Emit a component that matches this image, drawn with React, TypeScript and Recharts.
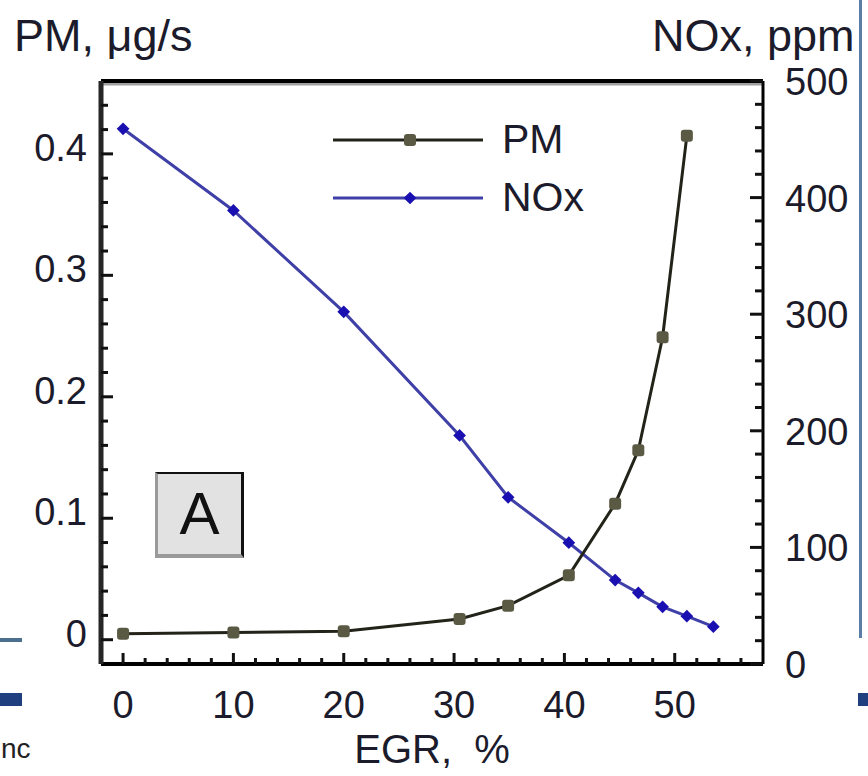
import React from 'react';
import { LineChart, Line, XAxis, YAxis, Legend, ReferenceLine } from 'recharts';

// values
const egr = [0, 10, 20, 30.5, 34.9, 40.4, 44.6, 46.7, 48.9, 51.1, 53.5];
const pm = [0.005, 0.006, 0.007, 0.017, 0.028, 0.053, 0.112, 0.156, 0.249, 0.415, null];
const nox = [459, 389, 302, 196, 143, 104, 72, 61, 49, 41, 32];

const xTicks = [0, 2, 4, 6, 8, 10, 12, 14, 16, 18, 20, 22, 24, 26, 28, 30, 32, 34, 36, 38, 40, 42, 44, 46, 48, 50, 52, 54, 56];
const xLabels = [0, 10, 20, 30, 40, 50];
const pmTicks = [0, 0.02, 0.04, 0.06, 0.08, 0.1, 0.12, 0.14, 0.16, 0.18, 0.2, 0.22, 0.24, 0.26, 0.28, 0.3, 0.32, 0.34, 0.36, 0.38, 0.4, 0.42, 0.44];
const pmLabels = [0, 0.1, 0.2, 0.3, 0.4];
const noxTicks = [0, 20, 40, 60, 80, 100, 120, 140, 160, 180, 200, 220, 240, 260, 280, 300, 320, 340, 360, 380, 400, 420, 440, 460, 480, 500];
const noxLabels = [0, 100, 200, 300, 400, 500];
const legendOrder = ['PM', 'NOx'];

const data = egr.map((e, i) => ({ egr: e, pm: pm[i], nox: nox[i] }));

const FONT = '"Liberation Sans", Arial, sans-serif';
const TEXT = '#1b1b2b';
const PM_LINE = '#23231a';
const PM_DOT = '#5a5a44';
const NOX_LINE = '#3f3fa8';
const NOX_DOT = '#1a0fb0';

const has = (list: number[], v: number) => list.some((m) => Math.abs(m - v) < 1e-9);

const LeftTick = (props: any) => {
  const { x, y, payload } = props;
  const major = has(pmLabels, payload.value);
  return (
    <g>
      <line x1={x} y1={y} x2={x + (major ? 12 : 7)} y2={y} stroke="#111" strokeWidth={3} />
      {major && (
        <text x={x - 14} y={y + 7} textAnchor="end" fontSize={38} fontFamily={FONT} fill={TEXT}>
          {String(payload.value)}
        </text>
      )}
    </g>
  );
};

const RightTick = (props: any) => {
  const { x, y, payload } = props;
  const major = has(noxLabels, payload.value);
  return (
    <g>
      <line x1={x} y1={y} x2={x - (major ? 13 : 8)} y2={y} stroke="#111" strokeWidth={3} />
      {major && (
        <text x={x + 22} y={y + 14} textAnchor="start" fontSize={38} fontFamily={FONT} fill={TEXT}>
          {String(payload.value)}
        </text>
      )}
    </g>
  );
};

const BottomTick = (props: any) => {
  const { x, y, payload } = props;
  const major = has(xLabels, payload.value);
  return (
    <g>
      <line x1={x} y1={y} x2={x} y2={y - (major ? 11 : 6)} stroke="#111" strokeWidth={3} />
      {major && (
        <text x={x} y={y + 54} textAnchor="middle" fontSize={38} fontFamily={FONT} fill={TEXT}>
          {String(payload.value)}
        </text>
      )}
    </g>
  );
};

const pmDot = (p: any) => {
  if (p.cy == null || p.value == null) return <g key={p.index} />;
  return <rect key={p.index} x={p.cx - 6} y={p.cy - 6} width={12} height={12} rx={3} fill={PM_DOT} />;
};

const noxDot = (p: any) => {
  if (p.cy == null) return <g key={p.index} />;
  return (
    <rect
      key={p.index}
      x={p.cx - 4.5}
      y={p.cy - 4.5}
      width={9}
      height={9}
      fill={NOX_DOT}
      transform={`rotate(45 ${p.cx} ${p.cy})`}
    />
  );
};

const renderLegend = (props: any) => {
  const items = [...(props.payload || [])].sort(
    (a: any, b: any) => legendOrder.indexOf(a.value) - legendOrder.indexOf(b.value)
  );
  return (
    <svg width={300} height={120}>
      {items.map((it: any, i: number) => {
        const y = i === 0 ? 30 : 88;
        const isPm = it.value === 'PM';
        return (
          <g key={it.value}>
            <line x1={13} y1={y} x2={163} y2={y} stroke={isPm ? PM_LINE : NOX_LINE} strokeWidth={3} />
            {isPm ? (
              <rect x={84} y={y - 6} width={12} height={12} rx={3} fill={PM_DOT} />
            ) : (
              <rect x={85.5} y={y - 4.5} width={9} height={9} fill={NOX_DOT} transform={`rotate(45 90 ${y})`} />
            )}
            <text x={182} y={y + 13} fontSize={41} fontFamily={FONT} fill={TEXT}>
              {it.value}
            </text>
          </g>
        );
      })}
    </svg>
  );
};

const App = () => {
  return (
    <div
      style={{
        position: 'absolute',
        left: 0,
        top: 0,
        width: 868,
        height: 776,
        background: '#fff',
        overflow: 'hidden',
        fontFamily: FONT,
      }}
    >
      <LineChart width={868} height={776} data={data} margin={{ top: 81, right: 0, bottom: 0, left: 0 }}>
        <XAxis
          dataKey="egr"
          type="number"
          domain={[-2, 58]}
          ticks={xTicks}
          interval={0}
          allowDataOverflow
          height={112}
          tickSize={0}
          tickMargin={0}
          tickLine={false}
          tick={<BottomTick />}
          axisLine={{ stroke: '#000', strokeWidth: 4 }}
          label={{ value: 'EGR,\u00a0 %', position: 'insideBottom', offset: 13, fontSize: 40, fill: TEXT, fontFamily: FONT }}
        />
        <YAxis
          yAxisId="left"
          type="number"
          domain={[-0.02, 0.46]}
          ticks={pmTicks}
          interval={0}
          allowDataOverflow
          width={101}
          tickSize={0}
          tickMargin={0}
          tickLine={false}
          tick={<LeftTick />}
          axisLine={{ stroke: '#262626', strokeWidth: 5 }}
        />
        <YAxis
          yAxisId="right"
          orientation="right"
          type="number"
          domain={[0, 500]}
          ticks={noxTicks}
          interval={0}
          allowDataOverflow
          width={105}
          tickSize={0}
          tickMargin={0}
          tickLine={false}
          tick={<RightTick />}
          axisLine={{ stroke: '#000', strokeWidth: 3 }}
        />
        <ReferenceLine yAxisId="left" y={0.4575} stroke="#a0a0a0" strokeWidth={3} />
        <ReferenceLine yAxisId="left" y={0.46} stroke="#000" strokeWidth={4} />
        <Legend
          layout="horizontal"
          verticalAlign="middle"
          align="center"
          content={renderLegend}
          wrapperStyle={{ position: 'absolute', left: 320, top: 110, width: 300, height: 120 }}
        />
        <Line
          yAxisId="right"
          type="linear"
          dataKey="nox"
          name="NOx"
          stroke={NOX_LINE}
          strokeWidth={3}
          dot={noxDot}
          activeDot={false}
          isAnimationActive={false}
          legendType="line"
        />
        <Line
          yAxisId="left"
          type="linear"
          dataKey="pm"
          name="PM"
          stroke={PM_LINE}
          strokeWidth={3}
          dot={pmDot}
          activeDot={false}
          isAnimationActive={false}
          legendType="line"
        />
      </LineChart>

      {/* axis titles above the frame */}
      <div style={{ position: 'absolute', left: 14, top: 13, fontSize: 45, lineHeight: '45px', color: TEXT, whiteSpace: 'nowrap' }}>
        PM, μg/s
      </div>
      <div style={{ position: 'absolute', left: 652, top: 13, fontSize: 45, lineHeight: '45px', color: TEXT, whiteSpace: 'nowrap' }}>
        NOx, ppm
      </div>

      {/* the "A" panel tag */}
      <div
        style={{
          position: 'absolute',
          left: 155,
          top: 472,
          width: 83,
          height: 80,
          background: '#e2e2e2',
          borderTop: '2px solid #111',
          borderRight: '3px solid #111',
          borderLeft: '3px solid #9a9a9a',
          borderBottom: '4px solid #9a9a9a',
          fontSize: 60,
          lineHeight: '80px',
          textAlign: 'center',
          color: '#111',
        }}
      >
        A
      </div>

      {/* slide remnants around the picture */}
      <div style={{ position: 'absolute', left: 859, top: 0, width: 3, height: 638, background: '#5c7ea6' }} />
      <div style={{ position: 'absolute', left: 0, top: 638, width: 22, height: 4, background: '#4a6f8f' }} />
      <div style={{ position: 'absolute', left: 0, top: 693, width: 22, height: 13, background: '#1f3f7f' }} />
      <div style={{ position: 'absolute', left: 858, top: 693, width: 10, height: 13, background: '#1f3f7f' }} />
      <div style={{ position: 'absolute', left: 1, top: 732, fontSize: 28, lineHeight: '34px', color: '#222', whiteSpace: 'nowrap' }}>
        nc
      </div>
    </div>
  );
};

export default App;
